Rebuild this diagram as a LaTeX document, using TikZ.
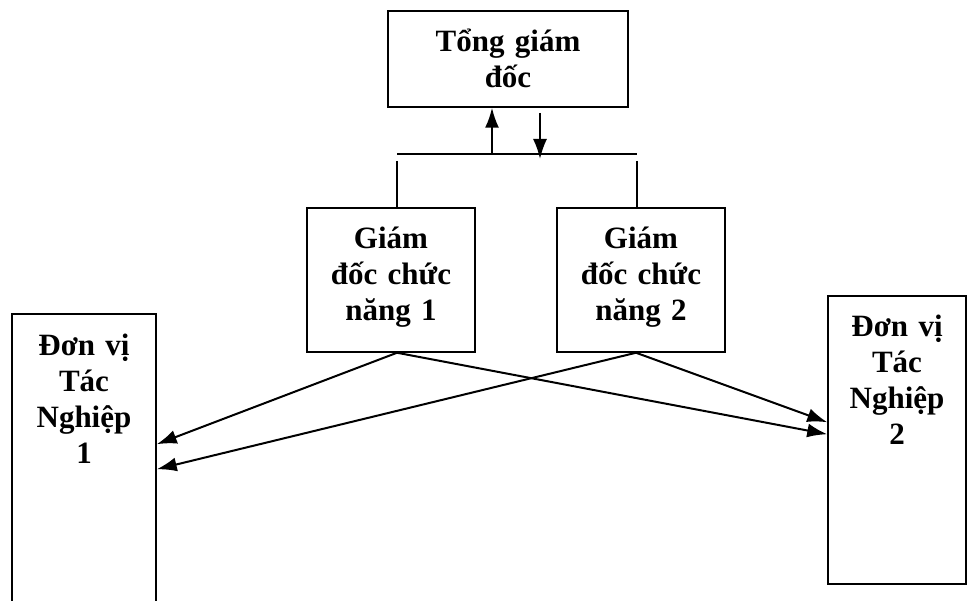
\documentclass[tikz,border=0pt]{standalone}
\usepackage{fontspec}
\setmainfont{Liberation Serif}
\usetikzlibrary{arrows.meta,calc}

\begin{document}
\begin{tikzpicture}[x=1pt,y=-1pt,
    box/.style={draw,line width=1.5pt,inner sep=0pt},
    lbl/.style={font=\fontsize{31}{36}\selectfont\bfseries,align=center,inner sep=0pt,text width=#1},
    conn/.style={line width=2pt},
    arr/.style={conn,-{Latex[length=20pt,width=14pt]}}]
            \useasboundingbox (0,0) rectangle (968,601);

            % the boxes
            \node[box,minimum width=240pt,minimum height=96pt] (tgd) at (508,59) {};
            \node[box,minimum width=168pt,minimum height=144pt] (gd1) at (391,280) {};
            \node[box,minimum width=168pt,minimum height=144pt] (gd2) at (641,280) {};
            \begin{scope}
                \clip (0,0) rectangle (968,601);
                \node[box,minimum width=144pt,minimum height=346pt] (dv1) at (84,487) {};
            \end{scope}
            \node[box,minimum width=138pt,minimum height=288pt] (dv2) at (897,440) {};

            % text in the boxes
            \node[lbl=230pt,anchor=base] (tgdt) at ($(tgd.north)+(0,41)$) {Tổng giám\\đốc};
            \node[lbl=160pt,anchor=base] (gd1t) at ($(gd1.north)+(0,41)$) {Giám\\đốc chức\\năng 1};
            \node[lbl=160pt,anchor=base] (gd2t) at ($(gd2.north)+(0,41)$) {Giám\\đốc chức\\năng 2};
            \node[lbl=140pt,anchor=base] (dv1t) at ($(dv1.north)+(0,42)$) {Đơn vị\\Tác\\Nghiệp\\1};
            \node[lbl=134pt,anchor=base] (dv2t) at ($(dv2.north)+(0,41)$) {Đơn vị\\Tác\\Nghiệp\\2};

            % the bar under the top box
            \coordinate (barL) at (397,154);
            \coordinate (barR) at (637,154);
            \draw[conn] (barL) -- (barR);
            \coordinate (dropL) at (397,161);
            \coordinate (dropR) at (637,161);
            \draw[box] (dropL) -- (dropL |- gd1.north);
            \draw[box] (dropR) -- (dropR |- gd2.north);

            % up and down
            \coordinate (upfoot) at (492,154);
            \draw[arr] (upfoot) -- (upfoot |- tgd.south);
            \coordinate (dntop) at (540,113);
            \coordinate (dnfoot) at (540,159);
            \draw[arr] (dntop) -- (dnfoot);

            % crossing arrows
            \coordinate (src1) at ($(gd1.south)+(6,0)$);
            \coordinate (src2) at ($(gd2.south)+(-5,0)$);
            \draw[arr] (src1) -- ($(dv1.north east)+(0,131)$);
            \draw[arr] (src1) -- ($(dv2.north west)+(0,139)$);
            \draw[arr] (src2) -- ($(dv1.north east)+(0,156)$);
            \draw[arr] (src2) -- ($(dv2.north west)+(0,127)$);
        \end{tikzpicture}
\end{document}
